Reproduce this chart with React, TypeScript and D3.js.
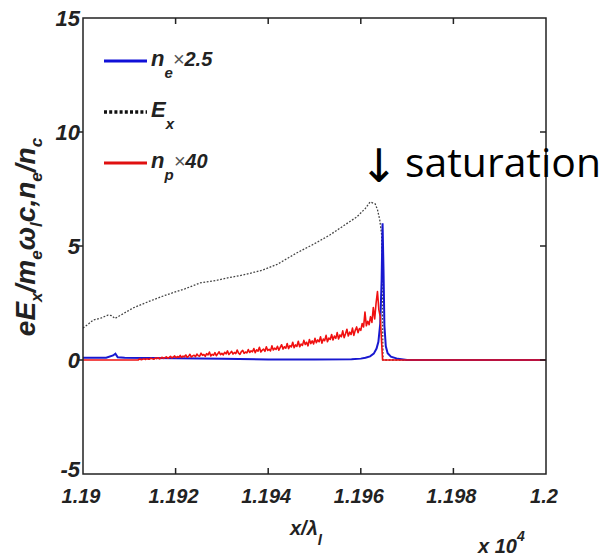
import React from "react";
import * as d3 from "d3";

const W = 602;
const H = 558;

// x in units of 1e4 lambda_l
const xTicks = [1.19, 1.192, 1.194, 1.196, 1.198, 1.2];
const xTickLabels = ["1.19", "1.192", "1.194", "1.196", "1.198", "1.2"];
const yTicks = [-5, 0, 5, 10, 15];
const yTickLabels = ["-5", "0", "5", "10", "15"];

// E_x (dotted black)
const exX = [1.19, 1.1901, 1.19022, 1.1904, 1.19054, 1.19062, 1.19069, 1.1908, 1.19108, 1.1914, 1.19179, 1.1922, 1.19253, 1.1929, 1.19317, 1.19346, 1.1937, 1.19389, 1.1942, 1.19461, 1.195, 1.19533, 1.1956, 1.19591, 1.1961, 1.1962, 1.19631, 1.19636, 1.19641, 1.19645, 1.19648, 1.2];
const exY = [1.4, 1.55, 1.75, 1.85, 1.97, 1.95, 1.82, 1.95, 2.28, 2.55, 2.85, 3.12, 3.38, 3.5, 3.62, 3.73, 3.85, 3.95, 4.2, 4.69, 5.1, 5.48, 5.85, 6.27, 6.65, 6.93, 6.85, 6.6, 6.14, 5.5, 0, 0];

// n_e x 2.5 (blue)
const neX = [1.19, 1.1905, 1.19065, 1.1907, 1.19075, 1.1909, 1.192, 1.193, 1.194, 1.195, 1.1958, 1.196, 1.1961, 1.1962, 1.19628, 1.19634, 1.19638, 1.19642, 1.19645, 1.19647, 1.19649, 1.19651, 1.19654, 1.19658, 1.19665, 1.1968, 1.197, 1.2];
const neY = [0.1, 0.1, 0.2, 0.28, 0.12, 0.1, 0.08, 0.05, 0.02, 0.02, 0.03, 0.06, 0.1, 0.16, 0.28, 0.5, 0.8, 1.6, 3.5, 6.0, 4.0, 1.5, 0.6, 0.3, 0.15, 0.05, 0, 0];

// n_p x 40 (red), sampled on a regular grid
const npStart = 1.1912;
const npStep = 0.00003;
const npY = [
  0.02, 0.04, 0.01, 0.03, 0.05, 0.02, 0.06, 0.03, 0.04, 0.08, 0.05, 0.03, 0.09, 0.06, 0.1, 0.05, 0.08, 0.12, 0.07, 0.1,
  0.14, 0.08, 0.11, 0.16, 0.09, 0.13, 0.18, 0.1, 0.15, 0.12, 0.2, 0.11, 0.17, 0.14, 0.22, 0.12, 0.16, 0.25, 0.13, 0.18,
  0.21, 0.15, 0.26, 0.19, 0.17, 0.3, 0.2, 0.24, 0.16, 0.28, 0.22, 0.35, 0.18, 0.25, 0.21, 0.32, 0.19, 0.27, 0.36, 0.23,
  0.29, 0.22, 0.34, 0.27, 0.4, 0.24, 0.31, 0.38, 0.26, 0.33, 0.28, 0.44, 0.3, 0.25, 0.37, 0.42, 0.29, 0.35, 0.31, 0.46,
  0.33, 0.4, 0.36, 0.5, 0.32, 0.45, 0.39, 0.56, 0.35, 0.43, 0.48, 0.38, 0.58, 0.42, 0.47, 0.4, 0.62, 0.44, 0.52, 0.46,
  0.6, 0.43, 0.55, 0.67, 0.48, 0.58, 0.52, 0.72, 0.5, 0.63, 0.57, 0.78, 0.54, 0.66, 0.6, 0.82, 0.58, 0.7, 0.64, 0.86,
  0.68, 0.78, 0.62, 0.9, 0.72, 0.84, 0.7, 0.95, 0.76, 0.88, 0.8, 1.02, 0.74, 0.92, 0.85, 1.08, 0.8, 0.96, 0.9, 1.12,
  0.88, 1.05, 0.95, 1.2, 0.92, 1.1, 1.02, 1.28, 0.98, 1.15, 1.35, 1.05, 1.22, 1.12, 1.4, 1.08, 1.3, 1.45, 1.2, 1.38,
  1.3, 1.6, 1.45, 2.1, 1.5, 1.7, 1.55, 1.9, 1.65, 2.3, 1.8, 2.5, 3.0, 2.2, 1.9,
];
const npHeadX = [1.19, 1.1912];
const npHeadY = [0, 0];
const npTailX = [1.19647, 1.2];
const npTailY = [0, 0];

const legendLabels = [
  { main: "n", sub: "e", tail: "×2.5", color: "#1010d8", dash: "" },
  { main: "E", sub: "x", tail: "", color: "#111", dash: "3,2.2" },
  { main: "n", sub: "p", tail: "×40", color: "#e01010", dash: "" },
];

export default function App() {
  const left = 83, right = 546, top = 18, bottom = 474;
  const x = d3.scaleLinear().domain([1.19, 1.2]).range([left, right]);
  const y = d3.scaleLinear().domain([-5, 15]).range([bottom, top]);
  const line = d3.line<[number, number]>().x((d) => x(d[0])).y((d) => y(d[1]));

  const exPts = exX.map((v, i) => [v, exY[i]] as [number, number]);
  const nePts = neX.map((v, i) => [v, neY[i]] as [number, number]);
  const npPts: [number, number][] = [
    ...npHeadX.map((v, i) => [v, npHeadY[i]] as [number, number]),
    ...npY.map((v, i) => [npStart + i * npStep, v] as [number, number]),
    ...npTailX.map((v, i) => [v, npTailY[i]] as [number, number]),
  ];

  const tickFont = "'Liberation Sans', Arial, sans-serif";
  const axisColor = "#222";

  return (
    <svg width={W} height={H} style={{ position: "absolute", left: 0, top: 0, background: "#fff" }}>
      <rect x={0} y={0} width={W} height={H} fill="#fff" />
      <defs>
        <clipPath id="plotclip">
          <rect x={left} y={top} width={right - left} height={bottom - top} />
        </clipPath>
      </defs>

      <g clipPath="url(#plotclip)">
        <path d={line(exPts) || ""} fill="none" stroke="#444" strokeWidth={1.3} strokeDasharray="1.8,1.6" />
        <path d={line(nePts) || ""} fill="none" stroke="#1818d0" strokeWidth={2} />
        <path d={line(npPts) || ""} fill="none" stroke="#f01010" strokeWidth={1.6} strokeLinejoin="round" />
      </g>

      {/* axes box */}
      <rect x={left} y={top} width={right - left} height={bottom - top} fill="none" stroke={axisColor} strokeWidth={1.5} />

      {/* x ticks */}
      {xTicks.map((t, i) => (
        <g key={"xt" + i}>
          {i > 0 && i < xTicks.length - 1 && (
            <>
              <line x1={x(t)} x2={x(t)} y1={bottom} y2={bottom - 6} stroke={axisColor} strokeWidth={1.5} />
              <line x1={x(t)} x2={x(t)} y1={top} y2={top + 6} stroke={axisColor} strokeWidth={1.5} />
            </>
          )}
          <text x={x(t) - 2} y={503} textAnchor="middle" fontFamily={tickFont} fontStyle="italic" fontWeight="bold" fontSize={20} fill="#222">
            {xTickLabels[i]}
          </text>
        </g>
      ))}

      {/* y ticks */}
      {yTicks.map((t, i) => (
        <g key={"yt" + i}>
          {i > 0 && i < yTicks.length - 1 && (
            <>
              <line x1={left} x2={left - 6} y1={y(t)} y2={y(t)} stroke={axisColor} strokeWidth={1.5} />
              <line x1={right} x2={right - 6} y1={y(t)} y2={y(t)} stroke={axisColor} strokeWidth={1.5} />
            </>
          )}
          <text x={80} y={y(t) - (t === -5 ? 5 : 0)} dy="0.36em" textAnchor="end" fontFamily={tickFont} fontStyle="italic" fontWeight="bold" fontSize={22} fill="#222">
            {yTickLabels[i]}
          </text>
        </g>
      ))}

      {/* legend */}
      {legendLabels.map((l, i) => {
        const ly = [61, 112, 163][i];
        return (
          <g key={"lg" + i}>
            <line x1={104} x2={147} y1={ly} y2={ly} stroke={l.color} strokeWidth={l.dash ? 3.5 : 3} strokeDasharray={l.dash || undefined} />
            <text x={151} y={ly + 5} fontFamily={tickFont} fontStyle="italic" fontWeight="bold" fontSize={22} fill="#222">
              <tspan>{l.main}</tspan>
              <tspan dy={12} fontSize={15}>{l.sub}</tspan>
              {l.tail && (
                <>
                  <tspan dy={-12} fontSize={20} fontWeight="normal" fill="#555">×</tspan>
                  <tspan fontSize={20}>{l.tail.slice(1)}</tspan>
                </>
              )}
            </text>
          </g>
        );
      })}

      {/* y label */}
      <text transform="translate(35,237) rotate(-90)" textAnchor="middle" fontFamily={tickFont} fontStyle="italic" fontWeight="bold" fontSize={28} fill="#222">
        <tspan>eE</tspan>
        <tspan fontSize={17} dy={7}>x</tspan>
        <tspan dy={-7}>/m</tspan>
        <tspan fontSize={17} dy={7}>e</tspan>
        <tspan dy={-7}>ω</tspan>
        <tspan fontSize={17} dy={7}>l</tspan>
        <tspan dy={-7}>c,n</tspan>
        <tspan fontSize={17} dy={7}>e</tspan>
        <tspan dy={-7}>/n</tspan>
        <tspan fontSize={17} dy={7}>c</tspan>
      </text>

      {/* x label */}
      <text x={290} y={535} fontFamily={tickFont} fontStyle="italic" fontWeight="bold" fontSize={20} fill="#222">
        <tspan>x/λ</tspan>
        <tspan fontSize={15} dy={10}>l</tspan>
      </text>
      <text x={478} y={553} fontFamily={tickFont} fontStyle="italic" fontWeight="bold" fontSize={20} fill="#222">
        <tspan>x 10</tspan>
        <tspan fontSize={14} dy={-12}>4</tspan>
      </text>

      {/* annotation */}
      <text x={379} y={182} textAnchor="middle" fontFamily="'DejaVu Sans', sans-serif" fontSize={46} fill="#000">
        ↓
      </text>
      <text x={405} y={177} fontFamily="'Open Sans', sans-serif" fontSize={40} fill="#000" textLength={196} lengthAdjust="spacingAndGlyphs">
        saturation
      </text>
    </svg>
  );
}
